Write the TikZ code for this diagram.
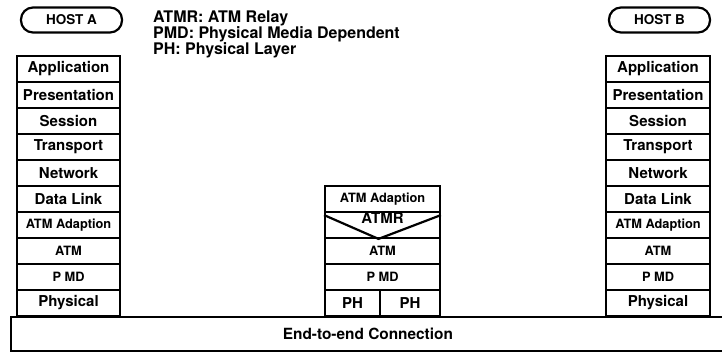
\documentclass[tikz,border=0pt]{standalone}
\usepackage{fontspec}
\setmainfont{TeX Gyre Heros}
\newcommand{\layerfont}[1]{\fontsize{#1}{#1}\selectfont\bfseries}
\tikzset{
  hostbox/.style={draw, line width=2.2pt, rounded corners=12pt, minimum width=101pt,
    minimum height=25pt, inner sep=0pt, font=\layerfont{13.5}},
  layerbox/.style={draw, line width=1.8pt, minimum height=26pt, inner sep=0pt},
  legend/.style={anchor=west, inner sep=0pt, font=\layerfont{16}},
}
\begin{document}
\begin{tikzpicture}[x=1pt, y=-1pt]
  \useasboundingbox (0,0) rectangle (722,353);
  % end systems
  \node[hostbox] (hosta) at (71.5,20) {HOST A};
  \node[hostbox] (hostb) at (659.5,20) {HOST B};
  \node[legend] (leg1) at (153,18) {ATMR: ATM Relay};
  \node[legend] (leg2) at (153,34) {PMD: Physical Media Dependent};
  \node[legend] (leg3) at (153,50) {PH: Physical Layer};
  \foreach \name/\sz [count=\i] in {Application/15, Presentation/15, Session/15,
      Transport/15, Network/15, Data Link/15, ATM Adaption/12.8, ATM/12.8,
      P MD/12.8, Physical/15} {
    \node[layerbox, minimum width=103pt, font=\layerfont{\sz}] (a\i) at (68.5,{43+26*\i}) {\name};
    \node[layerbox, minimum width=104pt, font=\layerfont{\sz}] (b\i) at (658,{43+26*\i}) {\name};
  }
  % relay in the middle
  \node[layerbox, minimum width=115pt, font=\layerfont{12.8}] (m-aal) at (382.5,199) {ATM Adaption};
  \node[layerbox, minimum width=115pt,
    label={[anchor=north, inner sep=0pt, yshift=-1.5pt, font=\layerfont{15}]north:ATMR}] (m-atmr) at (382.5,225) {};
  \draw[line width=2.2pt] ([yshift=-4pt]m-atmr.north west) -- ([xshift=-4pt]m-atmr.south)
    -- ([yshift=-4pt]m-atmr.north east);
  \node[layerbox, minimum width=115pt, font=\layerfont{12.8}] (m-atm) at (382.5,251) {ATM};
  \node[layerbox, minimum width=115pt, font=\layerfont{12.8}] (m-pmd) at (382.5,277) {P MD};
  \node[layerbox, minimum width=55pt, font=\layerfont{15}] (m-pha) at (352.5,303) {PH};
  \node[layerbox, minimum width=60pt, font=\layerfont{15}] (m-phb) at (410,303) {PH};
  % the connection runs off the right edge
  \node[layerbox, anchor=north west, minimum width=714pt, minimum height=34pt,
    font=\layerfont{15.4}] (e2e) at (10,316) {End-to-end Connection};
\end{tikzpicture}
\end{document}
